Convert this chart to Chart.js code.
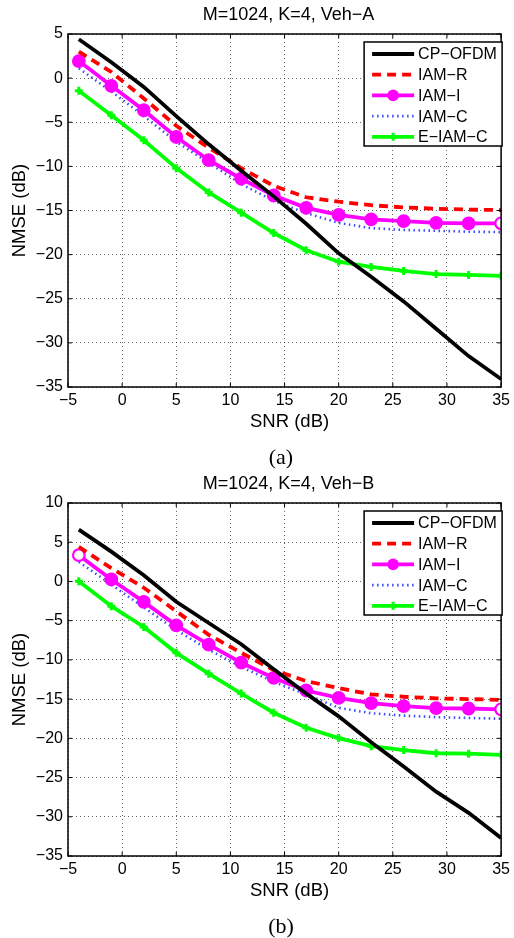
<!DOCTYPE html>
<html>
<head>
<meta charset="utf-8">
<script src="https://cdn.jsdelivr.net/npm/chart.js@4.4.1/dist/chart.umd.min.js"></script>
<style>
  html, body { margin: 0; padding: 0; background: #fff; }
  .panel { position: relative; width: 514px; height: 469px; }
  .panel canvas { position: absolute; left: 0; top: 0; }
  .caption { position: absolute; left: 231px; width: 100px; top: 444px; line-height: 26px;
             text-align: center; font: 22px "Liberation Serif", "Times New Roman", serif; color: #000; }
</style>
</head>
<body>
<div class="panel"><canvas id="chartA" width="514" height="469"></canvas><div class="caption">(a)</div></div>
<div class="panel"><canvas id="chartB" width="514" height="469"></canvas><div class="caption">(b)</div></div>
<script>
// --- data ---
const snrDb = [-4, -1, 2, 5, 8, 11, 14, 17, 20, 23, 26, 29, 32, 35];
const seriesNames = ['CP\u2212OFDM', 'IAM\u2212R', 'IAM\u2212I', 'IAM\u2212C', 'E\u2212IAM\u2212C'];

// (a) Veh-A
const vehA_cpofdm = [4.4, 1.8, -1.0, -4.3, -7.5, -10.5, -13.4, -16.5, -19.85, -22.5, -25.3, -28.4, -31.5, -34.1];
const vehA_iamR   = [3.0, 0.7, -2.3, -5.4, -7.9, -10.2, -12.2, -13.5, -14.0, -14.4, -14.65, -14.8, -14.9, -14.95];
const vehA_iamI   = [1.93, -0.87, -3.64, -6.67, -9.3, -11.4, -13.3, -14.7, -15.5, -16.0, -16.2, -16.4, -16.45, -16.45];
const vehA_iamC   = [1.1, -1.5, -4.3, -7.2, -9.6, -12.0, -13.9, -15.3, -16.4, -17.0, -17.2, -17.3, -17.4, -17.45];
const vehA_eiamC  = [-1.44, -4.2, -7.05, -10.2, -12.95, -15.25, -17.55, -19.5, -20.8, -21.4, -21.85, -22.2, -22.3, -22.4];

// (b) Veh-B
const vehB_cpofdm = [6.6, 3.8, 0.8, -2.6, -5.3, -8.0, -11.2, -14.3, -17.2, -20.5, -23.6, -26.8, -29.5, -32.7];
const vehB_iamR   = [4.4, 1.7, -0.8, -3.8, -6.8, -9.1, -11.3, -12.7, -13.6, -14.4, -14.7, -14.9, -15.0, -15.1];
const vehB_iamI   = [3.35, 0.25, -2.6, -5.6, -8.06, -10.36, -12.3, -13.9, -14.85, -15.5, -15.9, -16.15, -16.2, -16.3];
const vehB_iamC   = [2.5, -0.4, -3.3, -6.2, -8.7, -10.9, -12.8, -14.4, -16.1, -16.8, -17.1, -17.3, -17.4, -17.5];
const vehB_eiamC  = [0.03, -3.15, -5.8, -9.1, -11.76, -14.3, -16.74, -18.65, -19.97, -21.0, -21.5, -21.9, -21.96, -22.1];

const FONT = '"Liberation Sans", Arial, Helvetica, sans-serif';
Chart.defaults.font.family = FONT;
Chart.defaults.color = '#000';

const minus = v => String(v).replace('-', '\u2212');
const pts = arr => snrDb.map((x, i) => ({ x: x, y: arr[i] }));

// box, inner ticks, titles, legend (MATLAB look)
const matlabFrame = {
    id: 'matlabFrame',
    afterDraw(chart, args, opts) {
        const ctx = chart.ctx, a = chart.chartArea;
        const xs = chart.scales.x, ys = chart.scales.y;
        ctx.save();
        // frame
        ctx.strokeStyle = '#000';
        ctx.lineWidth = 1.5;
        ctx.strokeRect(a.left, a.top, a.right - a.left, a.bottom - a.top);
        // inner tick marks
        ctx.lineWidth = 1;
        ctx.beginPath();
        xs.ticks.forEach(t => {
            const px = xs.getPixelForValue(t.value);
            ctx.moveTo(px, a.bottom); ctx.lineTo(px, a.bottom - 4);
            ctx.moveTo(px, a.top); ctx.lineTo(px, a.top + 4);
        });
        ys.ticks.forEach(t => {
            const py = ys.getPixelForValue(t.value);
            ctx.moveTo(a.left, py); ctx.lineTo(a.left + 4, py);
            ctx.moveTo(a.right, py); ctx.lineTo(a.right - 4, py);
        });
        ctx.stroke();

        // titles
        ctx.fillStyle = '#000';
        ctx.textAlign = 'center';
        ctx.textBaseline = 'middle';
        const cx = (a.left + a.right) / 2;
        ctx.font = '18px ' + FONT;
        ctx.fillText(opts.title, cx + 4, 15);
        ctx.font = '18.5px ' + FONT;
        ctx.fillText('SNR (dB)', cx + 5, a.bottom + 35);
        ctx.save();
        ctx.translate(20, (a.top + a.bottom) / 2);
        ctx.rotate(-Math.PI / 2);
        ctx.fillText('NMSE (dB)', 0, 0);
        ctx.restore();

        // legend
        const w = 138, h = 104;
        const lx = a.right + 1 - w, ly = a.top + 8;
        ctx.fillStyle = '#fff';
        ctx.fillRect(lx, ly, w, h);
        ctx.strokeStyle = '#000';
        ctx.lineWidth = 1.5;
        ctx.strokeRect(lx, ly, w, h);
        chart.data.datasets.forEach((ds, i) => {
            const y = ly + 12 + i * 20.7;
            const x0 = lx + 8, x1 = lx + 50;
            ctx.save();
            ctx.strokeStyle = ds.borderColor;
            ctx.lineWidth = ds.borderWidth;
            ctx.setLineDash(ds.borderDash || []);
            ctx.beginPath(); ctx.moveTo(x0, y); ctx.lineTo(x1, y); ctx.stroke();
            ctx.setLineDash([]);
            const mx = (x0 + x1) / 2;
            if (ds.pointStyle === 'circle' && ds.pointRadius > 0) {
                ctx.fillStyle = ds.borderColor;
                ctx.beginPath(); ctx.arc(mx, y, ds.pointRadius, 0, Math.PI * 2); ctx.fill();
            } else if (ds.pointStyle === 'cross') {
                ctx.lineWidth = ds.pointBorderWidth;
                ctx.beginPath();
                ctx.moveTo(mx - ds.pointRadius, y); ctx.lineTo(mx + ds.pointRadius, y);
                ctx.moveTo(mx, y - ds.pointRadius); ctx.lineTo(mx, y + ds.pointRadius);
                ctx.stroke();
            }
            ctx.restore();
            ctx.fillStyle = '#000';
            ctx.textAlign = 'left';
            ctx.font = '16px ' + FONT;
            ctx.fillText(ds.label, lx + 54, y + 1);
        });
        ctx.restore();
    }
};

function makeChart(id, title, yMin, yMax, cp, iamR, iamI, iamC, eiamC, openFirst) {
    const iamIFill = ctx => (ctx.dataIndex === snrDb.length - 1 || (openFirst && ctx.dataIndex === 0)) ? '#fff' : '#ff00ff';
    return new Chart(document.getElementById(id), {
        type: 'line',
        data: {
            datasets: [
                { label: seriesNames[0], data: pts(cp), borderColor: '#000000', borderWidth: 3.8, pointRadius: 0 },
                { label: seriesNames[1], data: pts(iamR), borderColor: '#ff0000', borderWidth: 3.8, borderDash: [9, 6], pointRadius: 0 },
                { label: seriesNames[2], data: pts(iamI), borderColor: '#ff00ff', borderWidth: 3.8, pointStyle: 'circle',
                  pointRadius: 5.8, pointBackgroundColor: iamIFill, pointBorderColor: '#ff00ff', pointBorderWidth: 2.2 },
                { label: seriesNames[3], data: pts(iamC), borderColor: '#3a4cff', borderWidth: 2.6, borderDash: [1.5, 3.5], pointRadius: 0 },
                { label: seriesNames[4], data: pts(eiamC), borderColor: '#00ff00', borderWidth: 3.8, pointStyle: 'cross',
                  pointRadius: 4, pointBorderWidth: 3, pointBorderColor: '#00ff00' }
            ]
        },
        options: {
            responsive: false,
            animation: false,
            events: [],
            layout: { padding: { top: 34, right: 10, left: 0, bottom: 0 } },
            plugins: { legend: { display: false }, tooltip: { enabled: false }, matlabFrame: { title: title } },
            scales: {
                x: {
                    type: 'linear', min: -5, max: 35,
                    ticks: { stepSize: 5, padding: 4, maxRotation: 0, autoSkip: false, font: { size: 16 }, color: '#000', callback: minus },
                    grid: { color: 'rgba(0,0,0,0.6)', lineWidth: 1, drawTicks: false },
                    border: { display: false, dash: [1, 3] },
                    afterFit: s => { s.height = 82; }
                },
                y: {
                    min: yMin, max: yMax,
                    ticks: { stepSize: 5, padding: 5, font: { size: 16 }, color: '#000', callback: minus },
                    grid: { color: 'rgba(0,0,0,0.6)', lineWidth: 1, drawTicks: false },
                    border: { display: false, dash: [1, 3] },
                    afterFit: s => { s.width = 68; }
                }
            }
        },
        plugins: [matlabFrame]
    });
}

makeChart('chartA', 'M=1024, K=4, Veh\u2212A', -35, 5, vehA_cpofdm, vehA_iamR, vehA_iamI, vehA_iamC, vehA_eiamC, false);
makeChart('chartB', 'M=1024, K=4, Veh\u2212B', -35, 10, vehB_cpofdm, vehB_iamR, vehB_iamI, vehB_iamC, vehB_eiamC, true);
</script>
</body>
</html>
